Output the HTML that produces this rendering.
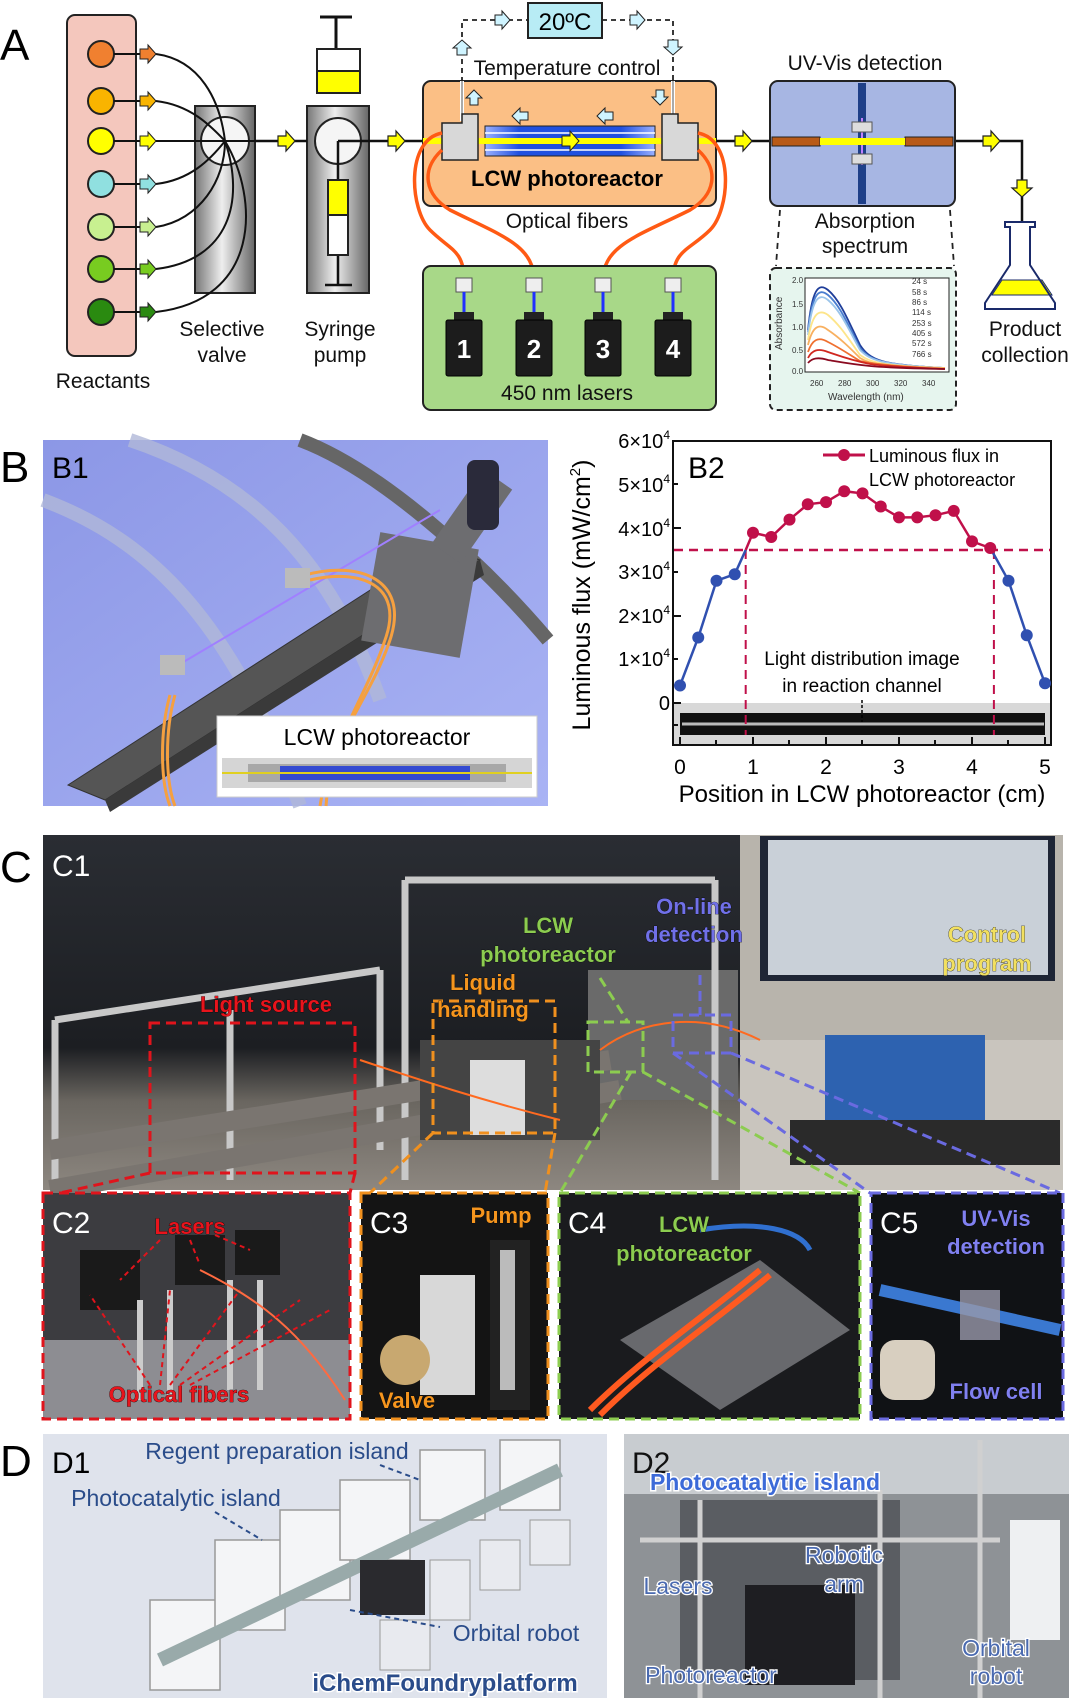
<!DOCTYPE html>
<html><head><meta charset="utf-8"><style>
html,body{margin:0;padding:0;background:#fff;}
svg{display:block;font-family:"Liberation Sans",Arial,sans-serif;}
.lbl{font-size:21px;fill:#111;text-anchor:middle;}
.big{font-size:44px;fill:#000;}
.ph{font-weight:bold;font-size:22px;stroke:#000;stroke-width:0.6px;paint-order:stroke;text-anchor:middle;}
</style></head><body>
<svg width="1080" height="1704" viewBox="0 0 1080 1704" xmlns="http://www.w3.org/2000/svg">
<defs>
<linearGradient id="cyl" x1="0" x2="1"><stop offset="0" stop-color="#777"/><stop offset=".45" stop-color="#eee"/><stop offset="1" stop-color="#666"/></linearGradient>
<linearGradient id="tube" x1="0" x2="1"><stop offset="0" stop-color="#9ab0ff"/><stop offset=".2" stop-color="#2050e0"/><stop offset=".8" stop-color="#2050e0"/><stop offset="1" stop-color="#9ab0ff"/></linearGradient>
<linearGradient id="c1" x1="0" y1="0" x2="0" y2="1"><stop offset="0" stop-color="#2a2d33"/><stop offset=".6" stop-color="#1c1e22"/><stop offset=".75" stop-color="#6a6660"/><stop offset="1" stop-color="#8d8780"/></linearGradient>
<linearGradient id="b1" x1="0" y1="0" x2="1" y2="1"><stop offset="0" stop-color="#8c97e6"/><stop offset="1" stop-color="#a9b3f4"/></linearGradient>
<g id="las"><rect x="-8" y="12" width="16" height="14" fill="#eee" stroke="#555"/><path d="M0,26V48" stroke="#2030ff" stroke-width="3"/><rect x="-10" y="46" width="20" height="8" fill="#222"/><rect x="-18" y="54" width="36" height="56" rx="2" fill="#1c1c1c" stroke="#000"/></g>
</defs>

<!-- ===== Panel A ===== -->
<text x="0" y="60" class="big" font-size="50">A</text>
<rect x="67" y="15" width="69" height="341" rx="8" fill="#f4c7bd" stroke="#222" stroke-width="2"/>
<g stroke="#222" stroke-width="2">
<circle cx="101" cy="54" r="13" fill="#f08030"/>
<circle cx="101" cy="101" r="13" fill="#f9b400"/>
<circle cx="101" cy="141" r="13" fill="#ffff00"/>
<circle cx="101" cy="184" r="13" fill="#90e0e0"/>
<circle cx="101" cy="227" r="13" fill="#c8f090"/>
<circle cx="101" cy="269" r="13" fill="#78cc20"/>
<circle cx="101" cy="312" r="13" fill="#2a8a10"/>
</g>
<g stroke="#111" stroke-width="2" fill="none">
<path d="M114,54H140"/><path d="M114,101H140"/><path d="M114,141H140"/><path d="M114,184H140"/><path d="M114,227H140"/><path d="M114,269H140"/><path d="M114,312H140"/>
</g>
<g stroke="#222" stroke-width="1" >
<path d="M140,49h8v-4l8,9l-8,9v-4h-8z" fill="#f08030"/>
<path d="M140,96h8v-4l8,9l-8,9v-4h-8z" fill="#f9b400"/>
<path d="M140,136h8v-4l8,9l-8,9v-4h-8z" fill="#ffff00"/>
<path d="M140,179h8v-4l8,9l-8,9v-4h-8z" fill="#90e0e0"/>
<path d="M140,222h8v-4l8,9l-8,9v-4h-8z" fill="#c8f090"/>
<path d="M140,264h8v-4l8,9l-8,9v-4h-8z" fill="#78cc20"/>
<path d="M140,307h8v-4l8,9l-8,9v-4h-8z" fill="#2a8a10"/>
</g>
<rect x="195" y="106" width="60" height="187" fill="url(#cyl)" stroke="#222" stroke-width="2"/>
<circle cx="225" cy="141" r="24" fill="#f5f5f5" stroke="#222" stroke-width="2"/>
<g stroke="#111" stroke-width="2" fill="none">
<path d="M156,54C200,60 220,100 225,141"/>
<path d="M156,101C190,105 210,125 225,141"/>
<path d="M156,141H255"/>
<path d="M156,184C190,180 210,160 225,141"/>
<path d="M156,227C200,220 225,180 225,141"/>
<path d="M156,269C230,260 245,200 225,141"/>
<path d="M156,312C260,300 260,200 225,141"/>
</g>
<text x="222" y="336" class="lbl">Selective</text><text x="222" y="362" class="lbl">valve</text>
<text x="103" y="388" class="lbl">Reactants</text>
<!-- syringe -->
<path d="M320,17H352M336,17V49" stroke="#111" stroke-width="3"/>
<rect x="317" y="49" width="43" height="22" fill="#fff" stroke="#222" stroke-width="2"/>
<rect x="317" y="71" width="43" height="22" fill="#ffff00" stroke="#222" stroke-width="2"/>
<rect x="307" y="106" width="62" height="187" fill="url(#cyl)" stroke="#222" stroke-width="2"/>
<circle cx="338" cy="141" r="23" fill="#f5f5f5" stroke="#222" stroke-width="2"/>
<path d="M338,141H369M338,141V285M325,285H352" stroke="#111" stroke-width="2.5" fill="none"/>
<rect x="328" y="180" width="20" height="35" fill="#ffff00" stroke="#222" stroke-width="2"/>
<rect x="328" y="215" width="20" height="40" fill="#fff" stroke="#222" stroke-width="2"/>
<text x="340" y="336" class="lbl">Syringe</text><text x="340" y="362" class="lbl">pump</text>
<!-- flow line -->
<path d="M255,141H307M369,141H423M716,141H770M955,141H1022V222" stroke="#111" stroke-width="2.5" fill="none"/>
<g fill="#ffff00" stroke="#222" stroke-width="1.2">
<path d="M278,136h8v-5l9,10l-9,10v-5h-8z"/>
<path d="M388,136h8v-5l9,10l-9,10v-5h-8z"/>
<path d="M735,136h8v-5l9,10l-9,10v-5h-8z"/>
<path d="M983,136h8v-5l9,10l-9,10v-5h-8z"/>
<path d="M1017,180v8h-5l10,9l10,-9h-5v-8z"/>
</g>
<!-- temperature loop -->
<rect x="528" y="3" width="74" height="35" fill="#b8ecf5" stroke="#222" stroke-width="2"/>
<text x="565" y="30" text-anchor="middle" font-size="24">20ºC</text>
<path d="M462,100V20H528M602,20H673V95" stroke="#222" stroke-width="1.8" stroke-dasharray="5,4" fill="none"/>
<g fill="#cff4ff" stroke="#222" stroke-width="1">
<path d="M495,15h7v-4l8,9l-8,9v-4h-7z"/><path d="M630,15h7v-4l8,9l-8,9v-4h-7z"/>
<path d="M457,55v-7h-4l9,-8l9,8h-4v7z"/><path d="M668,40v7h-4l9,8l9,-8h-4v-7z"/>
</g>
<text x="567" y="75" class="lbl">Temperature control</text>
<rect x="423" y="81" width="293" height="125" rx="8" fill="#fbbf85" stroke="#222" stroke-width="2"/>
<path d="M462,81V121M673,81V121" stroke="#fff" stroke-width="4"/><path d="M462,81V121M673,81V121" stroke="#555" stroke-width="1" />
<rect x="485" y="126" width="170" height="30" fill="url(#tube)" stroke="#222"/>
<path d="M423,141H716" stroke="#ffff00" stroke-width="6"/>
<path d="M485,133H655M485,150H655" stroke="#fff" stroke-width="1.5"/>
<path d="M442,123h20v-9h16v46h-36z" fill="#d8d8d8" stroke="#222" stroke-width="1.5"/>
<path d="M698,123h-20v-9h-16v46h36z" fill="#d8d8d8" stroke="#222" stroke-width="1.5"/>
<path d="M562,136h8v-5l9,10l-9,10v-5h-8z" fill="#ffff00" stroke="#222"/>
<g fill="#cff4ff" stroke="#222" stroke-width="1">
<path d="M528,112h-8v-4l-8,8l8,8v-4h8z"/><path d="M613,112h-8v-4l-8,8l8,8v-4h8z"/>
<path d="M470,105v-7h-4l8,-8l8,8h-4v7z"/><path d="M656,90v7h-4l8,8l8,-8h-4v-7z"/>
</g>
<text x="567" y="186" text-anchor="middle" font-size="22" font-weight="bold">LCW photoreactor</text>
<!-- fibers -->
<g stroke="#ff5a14" stroke-width="3.5" fill="none">
<path d="M442,133C405,140 410,210 430,230C450,250 464,250 464,280"/>
<path d="M442,150C420,170 425,195 450,210C500,235 534,245 534,280"/>
<path d="M698,150C720,170 715,195 690,210C640,235 603,245 603,280"/>
<path d="M698,133C735,140 730,210 710,230C690,250 673,250 673,280"/>
</g>
<text x="567" y="228" class="lbl">Optical fibers</text>
<rect x="423" y="266" width="293" height="144" rx="8" fill="#a8d888" stroke="#222" stroke-width="2"/>
<use href="#las" transform="translate(464,266)"/><use href="#las" transform="translate(534,266)"/><use href="#las" transform="translate(603,266)"/><use href="#las" transform="translate(673,266)"/>
<g fill="#fff" font-size="26" font-weight="bold" text-anchor="middle"><text x="464" y="358">1</text><text x="534" y="358">2</text><text x="603" y="358">3</text><text x="673" y="358">4</text></g>
<text x="567" y="400" class="lbl">450 nm lasers</text>
<!-- UV-Vis -->
<text x="865" y="70" class="lbl">UV-Vis detection</text>
<rect x="770" y="81" width="185" height="125" rx="8" fill="#a7b6e3" stroke="#222" stroke-width="2"/>
<rect x="858" y="83" width="8" height="121" fill="#1e3f88"/>
<path d="M862,118V165" stroke="#c080ff" stroke-width="2"/>
<rect x="772" y="137" width="48" height="9" fill="#b85a18" stroke="#222"/>
<rect x="905" y="137" width="48" height="9" fill="#b85a18" stroke="#222"/>
<rect x="820" y="138" width="85" height="7" fill="#ffff00"/>
<rect x="852" y="122" width="20" height="10" fill="#ddd" stroke="#555"/><rect x="852" y="154" width="20" height="10" fill="#ddd" stroke="#555"/>
<path d="M780,210L776,266M950,210L954,266" stroke="#222" stroke-width="1.8" stroke-dasharray="6,5"/>
<text x="865" y="228" class="lbl">Absorption</text><text x="865" y="253" class="lbl">spectrum</text>
<rect x="770" y="268" width="186" height="142" rx="6" fill="#e6f5ee" stroke="#222" stroke-width="2" stroke-dasharray="6,4"/>
<rect x="805" y="278" width="144" height="94" fill="#fff" stroke="#222"/>
<g fill="none" stroke-width="1.8">
<path d="M808,330C812,290 818,282 828,290C840,300 848,320 860,345C870,360 880,365 945,368" stroke="#1f3e9a"/>
<path d="M808,332C812,295 818,287 828,295C840,305 848,325 860,348C870,360 880,365 945,368" stroke="#4a7ed0"/>
<path d="M808,335C812,300 818,292 828,300C840,310 848,328 860,350C870,360 880,365 945,368" stroke="#9ac4ea"/>
<path d="M808,340C812,315 818,308 828,315C840,325 848,338 860,355C870,362 880,366 945,368" stroke="#fde58a"/>
<path d="M808,345C812,328 818,322 828,330C840,338 850,348 860,358C870,364 880,366 945,368" stroke="#f8b060"/>
<path d="M808,352C812,340 818,336 828,342C840,348 850,355 860,361C880,366 945,369 945,369" stroke="#ef7030"/>
<path d="M808,358C812,350 818,348 828,352C840,356 850,360 870,364C890,367 945,369 945,369" stroke="#d02820"/>
<path d="M808,363C812,358 818,357 828,360C840,362 850,364 870,366C890,368 945,369 945,369" stroke="#8a0a20"/>
</g>
<g font-size="8" fill="#333"><text x="912" y="284">24 s</text><text x="912" y="295">58 s</text><text x="912" y="305">86 s</text><text x="912" y="315">114 s</text><text x="912" y="326">253 s</text><text x="912" y="336">405 s</text><text x="912" y="346">572 s</text><text x="912" y="357">766 s</text>
<text x="792" y="283">2.0</text><text x="792" y="307">1.5</text><text x="792" y="330">1.0</text><text x="792" y="353">0.5</text><text x="792" y="374">0.0</text>
<text x="810" y="386">260</text><text x="838" y="386">280</text><text x="866" y="386">300</text><text x="894" y="386">320</text><text x="922" y="386">340</text>
<text x="828" y="400" font-size="10">Wavelength (nm)</text>
<text transform="translate(782,350) rotate(-90)" font-size="10">Absorbance</text></g>
<!-- flask -->
<path d="M992,295l10,-15h40l10,15z" fill="#ffff00" stroke="#1a2a6a"/>
<path d="M985,303l25,-38v-38h-5v-5h30v5h-5v38l25,38v6h-70z" fill="none" stroke="#1a2a6a" stroke-width="2"/>
<text x="1025" y="336" class="lbl">Product</text><text x="1025" y="362" class="lbl">collection</text>

<!-- ===== Panel B ===== -->
<text x="0" y="482" class="big" font-size="50">B</text>
<rect x="43" y="440" width="505" height="366" fill="url(#b1)"/>
<path d="M43,500C150,540 230,620 300,806" stroke="#b0b8d8" stroke-width="14" fill="none" opacity=".8"/>
<path d="M130,440C250,480 330,560 380,700" stroke="#b0b8d8" stroke-width="14" fill="none" opacity=".8"/>
<path d="M300,440C380,470 480,560 548,640" stroke="#666" stroke-width="14" fill="none"/>
<path d="M105,800L68,785L440,545L480,560z" fill="#555" stroke="#333"/>
<path d="M105,800L480,560L484,575L110,812z" fill="#3a3a3a"/>
<rect x="370" y="540" width="100" height="110" fill="#6d6d70" transform="rotate(10 420 595)"/>
<path d="M170,670L440,510" stroke="#a080ff" stroke-width="2"/>
<rect x="455" y="470" width="35" height="90" fill="#6d6d70" transform="rotate(35 470 515)"/>
<rect x="467" y="460" width="32" height="70" rx="8" fill="#2a2a3a"/>
<g stroke="#f5a040" stroke-width="3" fill="none">
<path d="M170,695C160,730 160,780 170,806"/><path d="M175,695C165,730 165,780 175,806"/>
<path d="M305,575C360,560 410,580 390,640C370,700 330,740 320,806"/><path d="M310,580C360,568 405,585 385,640C365,700 330,740 326,806"/>
</g>
<rect x="160" y="655" width="25" height="20" fill="#bbb"/><rect x="285" y="568" width="25" height="20" fill="#bbb"/>
<rect x="217" y="716" width="320" height="81" fill="#fff" stroke="#ccc"/>
<text x="377" y="745" text-anchor="middle" font-size="23">LCW photoreactor</text>
<rect x="222" y="758" width="310" height="30" fill="#d5d5d5"/>
<rect x="248" y="764" width="258" height="18" fill="#a8a8a8"/>
<rect x="280" y="766" width="190" height="14" fill="#1f3ad8" opacity=".85"/>
<path d="M222,773H532" stroke="#e0d020" stroke-width="2"/>
<text x="52" y="478" font-size="30" fill="#000">B1</text>

<!-- B2 plot -->
<rect x="673" y="441" width="378" height="304" fill="#fff" stroke="#111" stroke-width="2"/>
<rect x="674" y="703" width="376" height="41" fill="#d8d8d8"/>
<rect x="680" y="713" width="365" height="22" fill="#111"/>
<path d="M682,724H1044" stroke="#bbb" stroke-width="3"/>
<path d="M862,700V722" stroke="#000" stroke-width="1.5" stroke-dasharray="3,2"/>
<g stroke="#111" stroke-width="2">
<path d="M673,441h8M673,484h5M673,528h8M673,572h5M673,616h8M673,659h5M673,703h8M673,725h5"/>
<path d="M680,745v-8M716,745v-5M753,745v-8M789,745v-5M826,745v-8M862,745v-5M899,745v-8M935,745v-5M972,745v-8M1008,745v-5M1045,745v-8"/>
</g>
<g font-size="20" text-anchor="end">
<text x="670" y="448">6×10<tspan font-size="12" dy="-9">4</tspan></text>
<text x="670" y="492">5×10<tspan font-size="12" dy="-9">4</tspan></text>
<text x="670" y="536">4×10<tspan font-size="12" dy="-9">4</tspan></text>
<text x="670" y="579">3×10<tspan font-size="12" dy="-9">4</tspan></text>
<text x="670" y="623">2×10<tspan font-size="12" dy="-9">4</tspan></text>
<text x="670" y="666">1×10<tspan font-size="12" dy="-9">4</tspan></text>
<text x="670" y="710">0</text>
</g>
<g font-size="21" text-anchor="middle"><text x="680" y="774">0</text><text x="753" y="774">1</text><text x="826" y="774">2</text><text x="899" y="774">3</text><text x="972" y="774">4</text><text x="1045" y="774">5</text></g>
<text x="862" y="802" text-anchor="middle" font-size="24">Position in LCW photoreactor (cm)</text>
<text transform="translate(590,595) rotate(-90)" text-anchor="middle" font-size="25">Luminous flux (mW/cm<tspan font-size="15" dy="-10">2</tspan><tspan dy="10">)</tspan></text>
<text x="688" y="478" font-size="30">B2</text>
<path d="M674,550H1050" stroke="#c0104a" stroke-width="2.5" stroke-dasharray="9,6"/>
<path d="M745.7,550V735M993.9,550V735" stroke="#c0104a" stroke-width="2" stroke-dasharray="9,6"/>
<text x="862" y="665" text-anchor="middle" font-size="19">Light distribution image</text>
<text x="862" y="692" text-anchor="middle" font-size="19">in reaction channel</text>
<polyline points="680,685.5 698.25,637.5 716.5,580.7 734.75,574.2 745.7,550" fill="none" stroke="#3050b0" stroke-width="2.5"/>
<polyline points="990.25,548 1008.5,580.7 1026.75,635.3 1045,683.3" fill="none" stroke="#3050b0" stroke-width="2.5"/>
<polyline points="745.7,550 753,532.7 771.25,537 789.5,519.6 807.75,504.3 826,502.1 844.25,491.2 862.5,493.4 880.75,506.5 899,517.4 917.25,517.4 935.5,515.2 953.75,510.9 972,541.4 990.25,548" fill="none" stroke="#c0104a" stroke-width="2.5"/>
<g fill="#3050b0"><circle cx="680" cy="685.5" r="6"/><circle cx="698.25" cy="637.5" r="6"/><circle cx="716.5" cy="580.7" r="6"/><circle cx="734.75" cy="574.2" r="6"/><circle cx="1008.5" cy="580.7" r="6"/><circle cx="1026.75" cy="635.3" r="6"/><circle cx="1045" cy="683.3" r="6"/></g>
<g fill="#c0104a"><circle cx="753" cy="532.7" r="6"/><circle cx="771.25" cy="537" r="6"/><circle cx="789.5" cy="519.6" r="6"/><circle cx="807.75" cy="504.3" r="6"/><circle cx="826" cy="502.1" r="6"/><circle cx="844.25" cy="491.2" r="6"/><circle cx="862.5" cy="493.4" r="6"/><circle cx="880.75" cy="506.5" r="6"/><circle cx="899" cy="517.4" r="6"/><circle cx="917.25" cy="517.4" r="6"/><circle cx="935.5" cy="515.2" r="6"/><circle cx="953.75" cy="510.9" r="6"/><circle cx="972" cy="541.4" r="6"/><circle cx="990.25" cy="548" r="6"/></g>
<path d="M823,455H865" stroke="#c0104a" stroke-width="3"/><circle cx="844" cy="455" r="6" fill="#c0104a"/>
<text x="869" y="462" font-size="18">Luminous flux in</text><text x="869" y="486" font-size="18">LCW photoreactor</text>

<!-- ===== Panel C ===== -->
<text x="0" y="882" class="big" font-size="50">C</text>
<rect x="43" y="835" width="1020" height="355" fill="url(#c1)"/>
<rect x="740" y="835" width="323" height="355" fill="#b8b4ac"/>
<rect x="740" y="1040" width="323" height="150" fill="#c9c5be"/>
<rect x="760" y="836" width="295" height="145" fill="#1e2535"/>
<rect x="768" y="840" width="280" height="135" fill="#c9d0d8"/>
<rect x="825" y="1035" width="160" height="85" fill="#2d62b0"/>
<rect x="790" y="1120" width="270" height="45" fill="#2a2a2a"/>
<rect x="588" y="970" width="150" height="130" fill="#6a6a6a"/>
<path d="M55,1020L380,970M55,1020V1190M230,1010V1180M380,970V1150M405,880H715M405,880V1180M715,880V1180" stroke="#c8c8c8" stroke-width="7" fill="none"/>
<path d="M50,1150L610,1060M50,1190L620,1090" stroke="#7a7570" stroke-width="20"/>
<rect x="420" y="1040" width="180" height="100" fill="#444"/>
<rect x="470" y="1060" width="55" height="75" fill="#ddd"/>
<path d="M360,1060C420,1080 480,1100 560,1120M600,1050C640,1020 700,1010 760,1040" stroke="#ff6a20" stroke-width="2" fill="none"/>
<rect x="150" y="1023" width="205" height="150" fill="none" stroke="#e0141c" stroke-width="3" stroke-dasharray="10,6"/>
<rect x="433" y="1001" width="122" height="132" fill="none" stroke="#f0901e" stroke-width="3" stroke-dasharray="10,6"/>
<rect x="588" y="1022" width="55" height="50" fill="none" stroke="#8ccc50" stroke-width="3" stroke-dasharray="10,6"/>
<rect x="673" y="1015" width="58" height="38" fill="none" stroke="#6a6ae0" stroke-width="3" stroke-dasharray="10,6"/>
<path d="M600,978L628,1022" stroke="#8ccc50" stroke-width="3" stroke-dasharray="10,6"/>
<path d="M700,975V1015" stroke="#6a6ae0" stroke-width="3" stroke-dasharray="10,6"/>
<path d="M150,1173L60,1193M355,1173L350,1193" stroke="#e0141c" stroke-width="3" stroke-dasharray="10,6"/>
<path d="M433,1133L370,1193M555,1133L545,1193" stroke="#f0901e" stroke-width="3" stroke-dasharray="10,6"/>
<path d="M631,1072L560,1193M643,1072L860,1193" stroke="#8ccc50" stroke-width="3" stroke-dasharray="10,6"/>
<path d="M673,1053L870,1193M731,1053L1060,1193" stroke="#6a6ae0" stroke-width="3" stroke-dasharray="10,6"/>
<text x="52" y="876" font-size="30" fill="#fff">C1</text>
<text x="266" y="1012" class="ph" fill="#e8141c">Light source</text>
<text x="483" y="990" class="ph" fill="#f5951e">Liquid</text><text x="483" y="1017" class="ph" fill="#f5951e">handling</text>
<text x="548" y="933" class="ph" fill="#8ccc50">LCW</text><text x="548" y="962" class="ph" fill="#8ccc50">photoreactor</text>
<text x="694" y="914" class="ph" fill="#7070e8">On-line</text><text x="694" y="942" class="ph" fill="#7070e8">detection</text>
<text x="987" y="942" class="ph" fill="#f2e060">Control</text><text x="987" y="971" class="ph" fill="#f2e060">program</text>

<!-- subpanels -->
<rect x="43" y="1193" width="307" height="226" fill="#3c3c40"/>
<rect x="43" y="1340" width="307" height="79" fill="#8d8d92"/>
<rect x="80" y="1250" width="60" height="60" fill="#1a1a1a"/><rect x="175" y="1235" width="50" height="50" fill="#1a1a1a"/><rect x="235" y="1230" width="45" height="45" fill="#1a1a1a"/>
<path d="M140,1300V1400M170,1290V1400M230,1280V1390M260,1280V1390" stroke="#ccc" stroke-width="6"/>
<path d="M200,1270C260,1300 300,1330 345,1400" stroke="#ff6a40" stroke-width="2" fill="none"/>
<rect x="43" y="1193" width="307" height="226" fill="none" stroke="#e0141c" stroke-width="3" stroke-dasharray="10,6"/>
<text x="52" y="1233" font-size="30" fill="#fff">C2</text>
<text x="190" y="1234" class="ph" fill="#e8141c" font-weight="normal" stroke-width="0">Lasers</text>
<text x="179" y="1402" class="ph" fill="#e8141c" font-weight="normal" stroke-width="0">Optical fibers</text>
<path d="M160,1240L120,1280M190,1240L200,1265M215,1235L250,1250M150,1385L90,1295M160,1385L170,1290M170,1385L240,1290M180,1385L300,1300M190,1385L330,1310" stroke="#e0141c" stroke-width="2" stroke-dasharray="5,4"/>

<rect x="361" y="1193" width="187" height="226" fill="#141414"/>
<rect x="420" y="1275" width="55" height="120" fill="#d8d8d8"/>
<circle cx="405" cy="1360" r="25" fill="#c8a870"/>
<rect x="490" y="1240" width="40" height="170" fill="#222"/><rect x="500" y="1250" width="15" height="140" fill="#bbb"/>
<rect x="361" y="1193" width="187" height="226" fill="none" stroke="#f0901e" stroke-width="3" stroke-dasharray="10,6"/>
<text x="370" y="1233" font-size="30" fill="#fff">C3</text>
<text x="501" y="1223" class="ph" fill="#f5951e" font-weight="normal" stroke-width="0">Pump</text>
<text x="407" y="1408" class="ph" fill="#f5951e" font-weight="normal" stroke-width="0">Valve</text>

<rect x="559" y="1193" width="301" height="226" fill="#1a1b1e"/>
<path d="M620,1340L760,1260L850,1330L720,1410z" fill="#8a8a8e" opacity=".7"/>
<path d="M590,1410C640,1360 700,1320 760,1270M600,1415C650,1365 710,1325 770,1275" stroke="#ff5a20" stroke-width="6" fill="none"/>
<path d="M700,1230C760,1220 800,1230 810,1250" stroke="#3070d0" stroke-width="5" fill="none"/>
<rect x="559" y="1193" width="301" height="226" fill="none" stroke="#8ccc50" stroke-width="3" stroke-dasharray="10,6"/>
<text x="568" y="1233" font-size="30" fill="#fff">C4</text>
<text x="684" y="1232" class="ph" fill="#8ccc50" font-weight="normal" stroke-width="0">LCW</text>
<text x="684" y="1261" class="ph" fill="#8ccc50" font-weight="normal" stroke-width="0">photoreactor</text>

<rect x="871" y="1193" width="192" height="226" fill="#101215"/>
<path d="M880,1290L1060,1330" stroke="#3a78d0" stroke-width="12"/>
<rect x="880" y="1340" width="55" height="60" rx="15" fill="#d8cfc0"/>
<rect x="960" y="1290" width="40" height="50" fill="#99a" opacity=".8"/>
<rect x="871" y="1193" width="192" height="226" fill="none" stroke="#6a6ae0" stroke-width="3" stroke-dasharray="10,6"/>
<text x="880" y="1233" font-size="30" fill="#fff">C5</text>
<text x="996" y="1226" class="ph" fill="#8080f0" font-weight="normal" stroke-width="0">UV-Vis</text>
<text x="996" y="1254" class="ph" fill="#8080f0" font-weight="normal" stroke-width="0">detection</text>
<text x="996" y="1399" class="ph" fill="#8080f0" font-weight="normal" stroke-width="0">Flow cell</text>

<!-- ===== Panel D ===== -->
<text x="0" y="1476" class="big" font-size="50">D</text>
<rect x="43" y="1434" width="564" height="264" fill="#dfe3ec"/>
<g fill="#f4f5f7" stroke="#999" stroke-width="1.5">
<rect x="150" y="1600" width="70" height="90"/><rect x="215" y="1540" width="70" height="90"/><rect x="280" y="1510" width="70" height="90"/><rect x="340" y="1480" width="70" height="80"/><rect x="420" y="1450" width="65" height="70"/><rect x="500" y="1440" width="60" height="70"/>
</g>
<path d="M160,1660L560,1470" stroke="#9aa" stroke-width="14"/>
<rect x="360" y="1560" width="65" height="55" fill="#2a2a2e"/>
<rect x="60" y="1640" width="80" height="30" fill="#666" transform="skewX(-20)"/>
<g fill="#e8eaef" stroke="#999"><rect x="430" y="1560" width="40" height="60"/><rect x="480" y="1540" width="40" height="50"/><rect x="530" y="1520" width="40" height="45"/><rect x="380" y="1620" width="50" height="50"/></g>
<text x="52" y="1473" font-size="30">D1</text>
<text x="277" y="1459" text-anchor="middle" font-size="23" fill="#2a4c8a">Regent preparation island</text>
<text x="176" y="1506" text-anchor="middle" font-size="23" fill="#2a4c8a">Photocatalytic island</text>
<text x="516" y="1641" text-anchor="middle" font-size="23" fill="#2a4c8a">Orbital robot</text>
<text x="445" y="1691" text-anchor="middle" font-size="24" font-weight="bold" fill="#2a4c8a" stroke="#fff" stroke-width="3" paint-order="stroke">iChemFoundryplatform</text>
<path d="M380,1465L420,1480M215,1512L262,1540M350,1610L440,1627" stroke="#2a4c8a" stroke-width="2" stroke-dasharray="5,4"/>

<rect x="624" y="1434" width="445" height="264" fill="#8e9296"/>
<rect x="624" y="1434" width="445" height="60" fill="#c8ccd0"/>
<rect x="680" y="1500" width="220" height="180" fill="#5a5d62"/>
<path d="M700,1500V1698M880,1490V1698M640,1540H1000M980,1440V1698" stroke="#d0d0d0" stroke-width="5"/>
<rect x="745" y="1585" width="110" height="100" fill="#1e1e22"/>
<rect x="1010" y="1520" width="50" height="120" fill="#eef0f2"/>
<text x="632" y="1473" font-size="30" fill="#111">D2</text>
<text x="765" y="1490" text-anchor="middle" font-size="23" font-weight="bold" fill="#3c6ad8" stroke="#fff" stroke-width="3" paint-order="stroke">Photocatalytic island</text>
<g font-size="23" text-anchor="middle" fill="#4a6ab0" stroke="#fff" stroke-width="2.5" paint-order="stroke">
<text x="844" y="1563">Robotic</text><text x="844" y="1592">arm</text>
<text x="678" y="1594">Lasers</text>
<text x="711" y="1683">Photoreactor</text>
<text x="996" y="1656">Orbital</text><text x="996" y="1684">robot</text>
</g>
</svg>
</body></html>
